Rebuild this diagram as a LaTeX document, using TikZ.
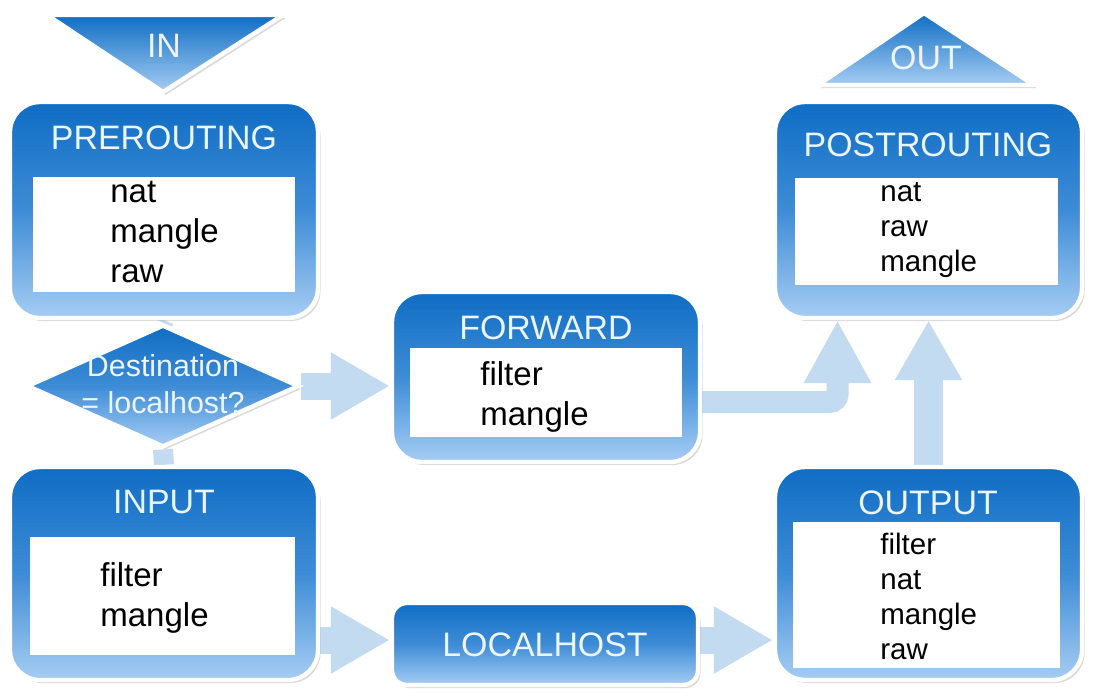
\documentclass[tikz,border=0pt]{standalone}
\usepackage{fontspec}
\setmainfont{Liberation Sans}
\usetikzlibrary{arrows.meta}
\usetikzlibrary{shapes.geometric}
\usetikzlibrary{fit}
\usetikzlibrary{shadows}
\definecolor{boxtop}{HTML}{0F6DC4}
\definecolor{boxmid}{HTML}{3E8CD6}
\definecolor{boxbot}{HTML}{A6CDF3}
\definecolor{flowblue}{HTML}{C2DBF0}
\definecolor{titlewhite}{HTML}{ECF4FC}
\pgfdeclarelayer{paper}
\pgfdeclarelayer{flows}
\pgfsetlayers{paper,flows,main}
\tikzstyle{chainbox}=[rounded corners=0.6cm, draw=white, line width=2.5pt, top color=boxtop, bottom color=boxbot, middle color=boxmid, inner sep=0pt, drop shadow={opacity=0.3, shadow xshift=0.05cm, shadow yshift=-0.06cm}]
\tikzstyle{iobox}=[draw=white, line width=2.5pt, line join=round, top color=boxtop, bottom color=boxbot, drop shadow={opacity=0.3, shadow xshift=0.05cm, shadow yshift=-0.06cm}]
\tikzstyle{decision}=[diamond, draw=white, line width=2.5pt, top color=boxtop, bottom color=boxbot, middle color=boxmid, inner sep=0pt, drop shadow={opacity=0.3, shadow xshift=0.05cm, shadow yshift=-0.06cm}]
\tikzstyle{tablebox}=[fill=white, inner sep=0pt]
\tikzstyle{chaintitle}=[text=titlewhite, inner sep=0pt, font=\fontsize{19.3}{23}\selectfont]
\tikzstyle{decisiontext}=[text=titlewhite, align=center, inner sep=0pt, font=\fontsize{17.3}{21}\selectfont]
\tikzstyle{tablelines}=[align=left, anchor=west, inner sep=0pt, font=\fontsize{18.8}{22.6}\selectfont]
\tikzstyle{tablelinessmall}=[align=left, anchor=west, inner sep=0pt, font=\fontsize{16.8}{19.9}\selectfont]
\tikzstyle{flow}=[draw=flowblue, line width=0.54cm]
\tikzstyle{flowarrow}=[flow, -{Triangle[width=1.26cm, length=1.18cm]}]

\begin{document}
\begin{tikzpicture}[x=0.02cm, y=-0.02cm]
    \begin{pgfonlayer}{paper}
      \fill[white] (0,0) rectangle (1114,697);
    \end{pgfonlayer}
    \useasboundingbox (0,0) rectangle (1114,697);

    \draw[iobox] (47,15) -- (283,15) -- (163,92) -- cycle;
    \node[chaintitle] (in) at (164,46) {IN};
    \draw[iobox] (924,13) -- (1034,85) -- (818,85) -- cycle;
    \node[chaintitle] (out) at (926,58) {OUT};

    \node[chainbox, fit={(10,102) (318,318)}] (pre) {};
    \node[tablebox, fit={(33,177) (295,292)}] (pretab) {};
    \node[chaintitle] (pretitle) at (164,138) {PREROUTING};
    \node[tablelines] (prelines) at (110,232) {nat\\mangle\\raw};

    \node[decision, minimum width=5.45cm, minimum height=2.45cm] (dest) at (163,386) {};
    \node[decisiontext] (desttext) at (163,384) {Destination\\= localhost?};

    \node[chainbox, fit={(392,292) (700,462)}] (fwd) {};
    \node[tablebox, fit={(410,348) (682,437)}] (fwdtab) {};
    \node[chaintitle] (fwdtitle) at (546,328) {FORWARD};
    \node[tablelines] (fwdlines) at (480,397) {filter\\mangle};

    \node[chainbox, fit={(775,102) (1082,318)}] (post) {};
    \node[tablebox, fit={(795,178) (1058,285)}] (posttab) {};
    \node[chaintitle] (posttitle) at (928,145) {POSTROUTING};
    \node[tablelinessmall] (postlines) at (880,230) {nat\\raw\\mangle};

    \node[chainbox, fit={(10,467) (318,680)}] (inp) {};
    \node[tablebox, fit={(30,537) (295,655)}] (inptab) {};
    \node[chaintitle] (inptitle) at (164,502) {INPUT};
    \node[tablelines] (inplines) at (100,598) {filter\\mangle};

    \node[chainbox, fit={(775,467) (1082,680)}] (outp) {};
    \node[tablebox, fit={(793,522) (1060,668)}] (outptab) {};
    \node[chaintitle] (outptitle) at (928,503) {OUTPUT};
    \node[tablelinessmall] (outplines) at (880,596) {filter\\nat\\mangle\\raw};

    \node[chainbox, rounded corners=0.3cm, fit={(392,603) (698,685)}] (lh) {};
    \node[chaintitle] (lhtitle) at (545,645) {LOCALHOST};

    \begin{pgfonlayer}{flows}
      \draw[flow, line width=0.4cm] (pre.south) -- (dest.north);
      \draw[flow, line width=0.4cm] (dest.south) -- (inp.north);
      \draw[flowarrow] (dest.east) -- (dest.east -| fwd.west);
      \draw[flowarrow, line width=0.44cm, rounded corners=0.16cm, -{Triangle[width=1.26cm, length=1.26cm]}] ([yshift=-0.5cm]fwd.east) -| ([xshift=-1.82cm]post.south);
      \draw[flowarrow, line width=0.58cm, -{Triangle[width=1.26cm, length=1.2cm]}] (outp.north) -- (post.south);
      \draw[flowarrow] ([yshift=0.08cm]lh.west -| inp.east) -- ([yshift=0.08cm]lh.west);
      \draw[flowarrow] ([yshift=0.08cm]lh.east) -- ([yshift=0.08cm]lh.east -| outp.west);
    \end{pgfonlayer}
  \end{tikzpicture}
\end{document}
